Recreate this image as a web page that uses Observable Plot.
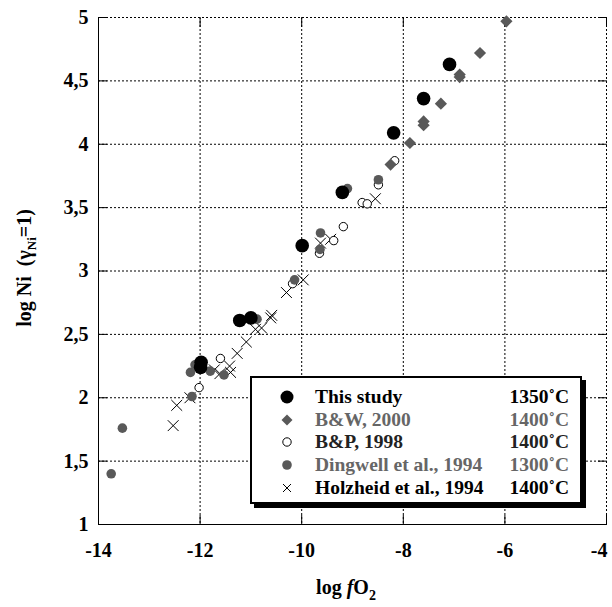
<!DOCTYPE html>
<html><head><meta charset="utf-8">
<script src="https://cdn.jsdelivr.net/npm/d3@7"></script>
<script src="https://cdn.jsdelivr.net/npm/@observablehq/plot@0.6"></script>
<style>
body{margin:0;background:#fff;}
#wrap{position:relative;width:612px;height:607px;font-family:"Liberation Serif","Times New Roman",serif;font-weight:bold;}
#legend{position:absolute;left:250px;top:376px;width:328px;height:124px;border:2px solid #000;background:#fff;box-shadow:4px 4px 0 #000;}
.row{position:absolute;left:0;right:0;height:22px;font-size:19.5px;line-height:22px;}
.row svg{position:absolute;left:27px;top:3px;}
.row .name{position:absolute;left:63px;}
.row .temp{position:absolute;right:11px;}
</style></head><body><div id="wrap"></div>
<script>
// This study (1350°C)
const thisStudyX = [-11.98, -11.99, -11.22, -11.00, -9.99, -9.20, -8.19, -7.60, -7.09];
const thisStudyY = [2.28, 2.24, 2.61, 2.63, 3.20, 3.62, 4.09, 4.36, 4.63];
// B&W, 2000 (1400°C)
const bwX = [-8.25, -7.87, -7.60, -7.60, -7.26, -6.89, -6.89, -6.49, -5.97];
const bwY = [3.84, 4.01, 4.18, 4.15, 4.32, 4.55, 4.53, 4.72, 4.97];
// B&P, 1998 (1400°C)
const bpX = [-12.02, -11.60, -10.18, -9.65, -9.37, -9.18, -8.81, -8.71, -8.49, -8.17];
const bpY = [2.08, 2.31, 2.90, 3.14, 3.24, 3.35, 3.54, 3.53, 3.68, 3.87];
// Dingwell et al., 1994 (1300°C)
const dingX = [-13.75, -13.53, -12.19, -12.10, -12.16, -11.80, -11.53, -10.88, -10.14, -9.63, -9.64, -9.10, -8.49];
const dingY = [1.40, 1.76, 2.20, 2.26, 2.01, 2.21, 2.18, 2.62, 2.93, 3.30, 3.17, 3.65, 3.72];
// Holzheid et al., 1994 (1400°C)
const holzX = [-12.53, -12.46, -12.20, -11.72, -11.61, -11.42, -11.40, -11.27, -11.09, -10.91, -10.79, -10.61, -10.59, -10.30, -9.97, -9.63, -9.43, -8.55];
const holzY = [1.78, 1.94, 2.00, 2.22, 2.19, 2.25, 2.20, 2.35, 2.44, 2.54, 2.55, 2.63, 2.65, 2.83, 2.93, 3.22, 3.25, 3.57];

const xTicks = [-14, -12, -10, -8, -6, -4];
const xTickLabels = ["-14", "-12", "-10", "-8", "-6", "-4"];
const yTicks = [1, 1.5, 2, 2.5, 3, 3.5, 4, 4.5, 5];
const yTickLabels = ["1", "1,5", "2", "2,5", "3", "3,5", "4", "4,5", "5"];

const legendNames = ["This study", "B&W, 2000", "B&P, 1998", "Dingwell et al., 1994", "Holzheid et al., 1994"];
const legendTemps = ["1350˚C", "1400˚C", "1400˚C", "1300˚C", "1400˚C"];

const gray = "#595959";
const zip = (xs, ys) => xs.map((x, i) => ({x, y: ys[i]}));
const FONT = "'Liberation Serif', 'Times New Roman', serif";
const xLab = xTicks.map((t, i) => ({t, label: xTickLabels[i]}));
const lastX = xLab.length - 1;

const plot = Plot.plot({
  width: 612, height: 607,
  marginLeft: 98, marginRight: 6, marginTop: 17, marginBottom: 83,
  x: {domain: [-14, -4], axis: null},
  y: {domain: [1, 5], axis: null},
  style: {fontFamily: FONT, fontSize: "20px", fontWeight: "bold", background: "white", color: "black", overflow: "visible"},
  marks: [
    Plot.gridX(xTicks, {stroke: "black", strokeOpacity: 1, strokeDasharray: "2,2"}),
    Plot.gridY(yTicks, {stroke: "black", strokeOpacity: 1, strokeDasharray: "2,2"}),
    Plot.ruleX([-14], {stroke: "black"}),
    Plot.ruleY([1], {stroke: "black"}),
    // inward tick marks on all four sides
    Plot.axisX(xTicks, {anchor: "bottom", tickSize: -9, label: null, tickFormat: () => ""}),
    Plot.axisX(xTicks, {anchor: "top", tickSize: -9, label: null, tickFormat: () => ""}),
    Plot.axisY(yTicks, {anchor: "left", tickSize: -9, label: null, tickFormat: () => ""}),
    Plot.axisY(yTicks, {anchor: "right", tickSize: -9, label: null, tickFormat: () => ""}),
    // tick labels
    Plot.text(xLab.slice(0, lastX), {x: "t", text: "label", frameAnchor: "bottom", lineAnchor: "top", dy: 18, fontSize: 20, fontWeight: "bold", fontFamily: FONT, fill: "black"}),
    Plot.text(xLab.slice(lastX), {x: "t", text: "label", frameAnchor: "bottom", lineAnchor: "top", textAnchor: "end", dx: 1, dy: 18, fontSize: 20, fontWeight: "bold", fontFamily: FONT, fill: "black"}),
    Plot.text(yTicks, {y: d => d, text: (d, i) => yTickLabels[i], frameAnchor: "left", textAnchor: "end", dx: -10, fontSize: 20, fontWeight: "bold", fontFamily: FONT, fill: "black"}),
    Plot.dot(zip(holzX, holzY), {x: "x", y: "y", symbol: "times", r: 5, stroke: "black", strokeWidth: 1}),
    Plot.dot(zip(bpX, bpY), {x: "x", y: "y", r: 4.2, stroke: "black", fill: "white", strokeWidth: 1}),
    Plot.dot(zip(dingX, dingY), {x: "x", y: "y", r: 4.8, fill: gray}),
    Plot.dot(zip(bwX, bwY), {x: "x", y: "y", symbol: "diamond2", r: 5.5, fill: gray}),
    Plot.dot(zip(thisStudyX, thisStudyY), {x: "x", y: "y", r: 6.8, fill: "black"})
  ]
});

const wrap = document.getElementById("wrap");
wrap.appendChild(plot);

const svg = d3.select(plot);
// y axis title
const yl = svg.append("text")
  .attr("transform", "translate(31,268) rotate(-90)")
  .attr("text-anchor", "middle")
  .attr("font-family", FONT)
  .attr("font-weight", "bold")
  .attr("font-size", 20)
  .attr("fill", "black");
yl.append("tspan").text("log Ni\u00a0\u00a0(γ");
yl.append("tspan").attr("font-size", 13).attr("dy", 5).text("Ni");
yl.append("tspan").attr("dy", -5).text("=1)");
// x axis title
const xl = svg.append("text")
  .attr("x", 346).attr("y", 594)
  .attr("text-anchor", "middle")
  .attr("font-family", FONT)
  .attr("font-weight", "bold")
  .attr("font-size", 20)
  .attr("fill", "black");
xl.append("tspan").text("log ");
xl.append("tspan").attr("font-style", "italic").text("f");
xl.append("tspan").text("O");
xl.append("tspan").attr("font-size", 14).attr("dy", 6).text("2");

// legend
const symbols = [
  '<circle cx="8" cy="8" r="6.5" fill="black"/>',
  '<path d="M8 2.5 L13.5 8 L8 13.5 L2.5 8 Z" fill="' + gray + '"/>',
  '<circle cx="8" cy="8" r="4.2" fill="white" stroke="black"/>',
  '<circle cx="8" cy="8" r="4.8" fill="' + gray + '"/>',
  '<path d="M4 4 L12 12 M12 4 L4 12" stroke="black" stroke-width="1"/>'
];
const colors = ["#000", "#666", "#222", "#666", "#000"];
const legend = document.createElement("div");
legend.id = "legend";
legendNames.forEach((name, i) => {
  const row = document.createElement("div");
  row.className = "row";
  row.style.top = (8 + i * 22.7) + "px";
  row.style.color = colors[i];
  row.innerHTML = '<svg width="16" height="16">' + symbols[i] + '</svg><span class="name"></span><span class="temp"></span>';
  row.querySelector(".name").textContent = name;
  row.querySelector(".temp").textContent = legendTemps[i];
  legend.appendChild(row);
});
wrap.appendChild(legend);
</script>
</body></html>
